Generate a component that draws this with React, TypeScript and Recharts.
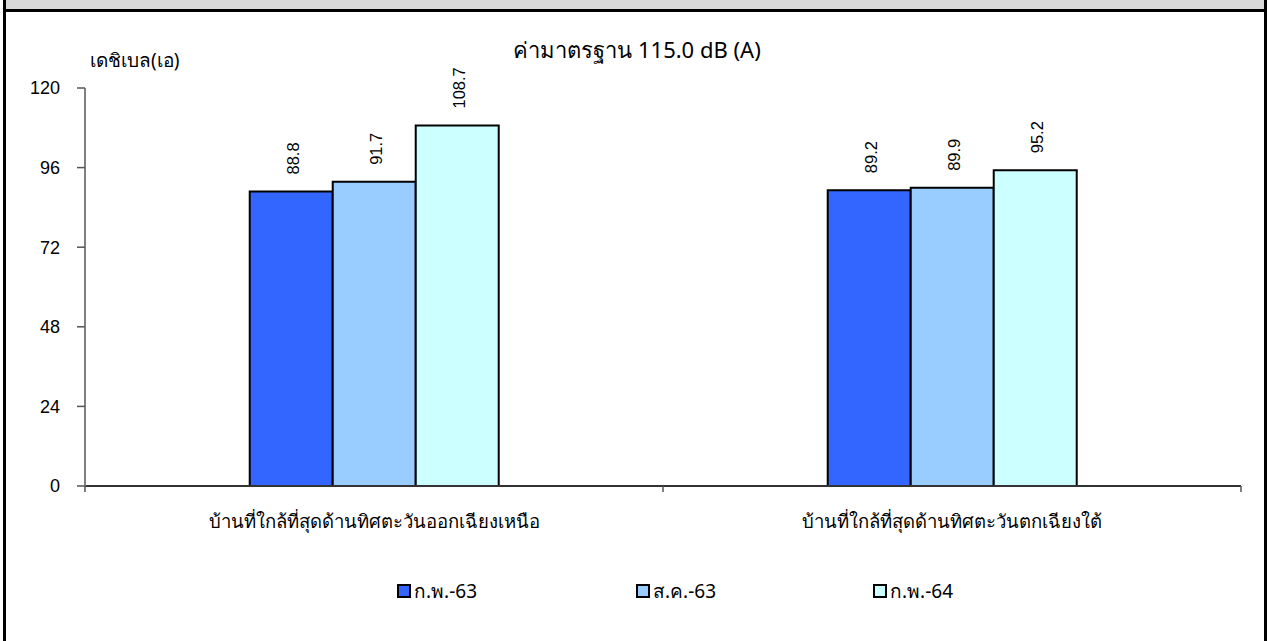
import { Bar, BarChart, LabelList, ReferenceLine, XAxis, YAxis } from "recharts";

const categories = ["บ้านที่ใกล้ที่สุดด้านทิศตะวันออกเฉียงเหนือ", "บ้านที่ใกล้ที่สุดด้านทิศตะวันตกเฉียงใต้"];
const feb63 = [88.8, 89.2];
const aug63 = [91.7, 89.9];
const feb64 = [108.7, 95.2];
const yTicks = [0, 24, 48, 72, 96, 120];
const standardLevel = 110.5;

const series = [
  { key: "feb63", name: "ก.พ.-63", color: "#3366FF" },
  { key: "aug63", name: "ส.ค.-63", color: "#99CCFF" },
  { key: "feb64", name: "ก.พ.-64", color: "#CCFFFF" },
];

const chartData = categories.map((name, i) => ({
  name,
  feb63: feb63[i],
  aug63: aug63[i],
  feb64: feb64[i],
}));

const W = 1268;
const H = 641;
const margin = { top: 88, right: 27, left: 25, bottom: 115 };
const yAxisWidth = 60;
const plotWidth = W - margin.left - margin.right - yAxisWidth;
const band = plotWidth / categories.length;
const thai = "Tahoma, 'Noto Sans', 'DejaVu Sans', sans-serif";
const num = "'Liberation Sans', Arial, sans-serif";

function CategoryTick(props: any) {
  const { x, y, payload, index } = props;
  return (
    <g>
      <line x1={x - band / 2} x2={x - band / 2} y1={y} y2={y + 6} stroke="#555" strokeWidth={1.5} />
      {index === categories.length - 1 && (
        <line x1={x + band / 2} x2={x + band / 2} y1={y} y2={y + 6} stroke="#555" strokeWidth={1.5} />
      )}
      <text x={x} y={y + 34} textAnchor="middle" dominantBaseline="central" fontSize={18.5} fontFamily={thai} fill="#000">
        {payload.value}
      </text>
    </g>
  );
}

function ValueLabel(props: any) {
  const { x, y, width, value } = props;
  const cx = x + width / 2 + 2;
  const cy = y - 17;
  return (
    <text
      x={cx}
      y={cy}
      transform={`rotate(-90 ${cx} ${cy})`}
      textAnchor="start"
      dominantBaseline="central"
      fontSize={16.5}
      fontFamily={num}
      fill="#000"
    >
      {value.toFixed(1)}
    </text>
  );
}

export default function App() {
  return (
    <div style={{ position: "absolute", left: 0, top: 0, width: W, height: H, overflow: "hidden", background: "#fff" }}>
      <div
        style={{
          position: "absolute",
          left: 3,
          top: -3,
          width: W - 4,
          height: H + 10,
          boxSizing: "border-box",
          border: "3px solid #000",
          background: "#fff",
        }}
      >
        <div style={{ height: 9, background: "#d9d9d9", borderBottom: "3px solid #000" }} />
      </div>
      <div style={{ position: "absolute", left: 0, top: 0 }}>
        <BarChart width={W} height={H} data={chartData} margin={margin} barCategoryGap="28.5%" barGap={0}>
          <XAxis
            dataKey="name"
            axisLine={{ stroke: "#333", strokeWidth: 2 }}
            tickLine={false}
            tickSize={0}
            tickMargin={0}
            tick={<CategoryTick />}
            height={40}
            interval={0}
          />
          <XAxis xAxisId="ref" type="number" domain={[0, 2]} hide />
          <YAxis
            domain={[0, 120]}
            ticks={yTicks}
            width={yAxisWidth}
            axisLine={{ stroke: "#808080", strokeWidth: 2 }}
            tickLine={{ stroke: "#555", strokeWidth: 1.5 }}
            tickSize={8}
            tickMargin={17}
            tick={{ fontSize: 18, fontFamily: num, fill: "#000" }}
          />
          {series.map((s) => (
            <Bar key={s.key} dataKey={s.key} name={s.name} fill={s.color} stroke="#000" strokeWidth={2} isAnimationActive={false}>
              <LabelList dataKey={s.key} content={<ValueLabel />} />
            </Bar>
          ))}
          <ReferenceLine
            xAxisId="ref"
            segment={[
              { x: 0.012, y: standardLevel },
              { x: 1.912, y: standardLevel },
            ]}
            stroke="#FF0000"
            strokeWidth={2.5}
            strokeDasharray="2 2"
          />
        </BarChart>
      </div>
      <div style={{ position: "absolute", left: 437, width: 400, top: 33, textAlign: "center", fontSize: 22, fontFamily: thai }}>
        ค่ามาตรฐาน 115.0 dB (A)
      </div>
      <div style={{ position: "absolute", left: 90, top: 45, fontSize: 19, fontFamily: thai }}>เดชิเบล(เอ)</div>
      {series.map((s, i) => (
        <div
          key={s.key}
          style={{
            position: "absolute",
            left: [397, 636, 873][i],
            top: 576,
            display: "flex",
            alignItems: "center",
            fontSize: 19,
            fontFamily: thai,
          }}
        >
          <span
            style={{
              display: "inline-block",
              width: 14,
              height: 14,
              boxSizing: "border-box",
              border: "2px solid #000",
              background: s.color,
              marginRight: 3,
            }}
          />
          {s.name}
        </div>
      ))}
    </div>
  );
}
